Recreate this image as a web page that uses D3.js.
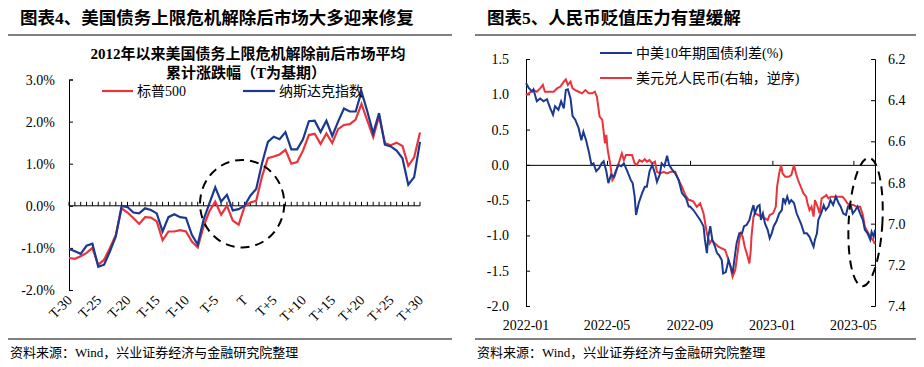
<!DOCTYPE html>
<head>
    <meta charset="utf-8">
    <title>美国债务上限 / 人民币</title>
    <style>
        body { margin: 0; background: #fff; }
        svg { display: block; }
        text { font-family: "Liberation Serif", "Noto Sans CJK SC", serif; fill: #000; }
        .title { font-weight: bold; font-size: 17.5px; }
        .sub { font-weight: bold; font-size: 15px; }
        .tick-label { font-size: 14px; }
        .legend { font-size: 14px; }
        .foot { font-size: 13px; }
    </style>
</head>

<body>
    <svg width="924" height="367"></svg>

    <script src="https://d3js.org/d3.v7.min.js"></script>

    <script>
        // ---- chart 4: average cumulative move around T ----
        var dayLabels = ["T-30", "T-25", "T-20", "T-15", "T-10", "T-5", "T", "T+5", "T+10", "T+15", "T+20", "T+25", "T+30"];
        var yTicksL = [-2, -1, 0, 1, 2, 3];
        // T-30 .. T+30 (61 points), %
        var sp500 = [-1.24, -1.26, -1.20, -1.12, -1.00, -1.40, -1.28, -1.00, -0.69, -0.06,
            -0.16, -0.29, -0.43, -0.27, -0.28, -0.37, -0.82, -0.61, -0.61, -0.58,
            -0.61, -0.85, -0.99, -0.49, -0.13, 0.10, -0.21, 0.00, -0.35, -0.45,
            -0.02, 0.08, 0.12, 0.70, 1.13, 1.17, 1.22, 1.33, 1.00, 1.04,
            1.31, 1.68, 1.71, 1.47, 1.72, 1.49, 1.82, 1.92, 1.94, 2.05,
            2.42, 2.02, 1.63, 2.13, 1.49, 1.44, 1.50, 1.42, 0.95, 1.15,
            1.74];
        var nasdaq = [-1.02, -1.08, -1.14, -0.95, -0.90, -1.45, -1.40, -1.08, -0.73, 0.00,
            -0.03, -0.16, -0.18, -0.06, -0.10, -0.18, -0.61, -0.27, -0.20, -0.27,
            -0.29, -0.69, -0.92, -0.33, 0.06, 0.44, 0.10, 0.26, -0.11, -0.08,
            0.00, 0.24, 0.40, 1.01, 1.52, 1.64, 1.58, 1.75, 1.34, 1.34,
            1.58, 2.01, 2.02, 1.75, 2.02, 1.66, 2.00, 2.31, 2.24, 2.24,
            2.71, 2.24, 1.72, 2.20, 1.45, 1.41, 1.31, 1.13, 0.50, 0.68,
            1.52];

        // ---- chart 5: CN-US 10y spread and USD/CNY ----
        var spreadDates = [
            "2022-01-01", "2022-01-05", "2022-01-10", "2022-01-12", "2022-01-17", "2022-01-22", "2022-01-27", "2022-02-01", "2022-02-06", "2022-02-10",
            "2022-02-13", "2022-02-18", "2022-02-22", "2022-02-26", "2022-03-01", "2022-03-04", "2022-03-08", "2022-03-11", "2022-03-15", "2022-03-20",
            "2022-03-24", "2022-03-27", "2022-03-31", "2022-04-04", "2022-04-08", "2022-04-11", "2022-04-15", "2022-04-19", "2022-04-23", "2022-04-26",
            "2022-04-30", "2022-05-03", "2022-05-07", "2022-05-11", "2022-05-14", "2022-05-18", "2022-05-22", "2022-05-26", "2022-05-31", "2022-06-05",
            "2022-06-08", "2022-06-11", "2022-06-13", "2022-06-17", "2022-06-22", "2022-06-26", "2022-06-29", "2022-07-03", "2022-07-07", "2022-07-11",
            "2022-07-14", "2022-07-18", "2022-07-21", "2022-07-25", "2022-07-29", "2022-08-01", "2022-08-05", "2022-08-10", "2022-08-15", "2022-08-20",
            "2022-08-26", "2022-08-30", "2022-09-01", "2022-09-06", "2022-09-11", "2022-09-16", "2022-09-21", "2022-09-23", "2022-09-26", "2022-09-28",
            "2022-10-01", "2022-10-04", "2022-10-08", "2022-10-11", "2022-10-14", "2022-10-18", "2022-10-20", "2022-10-24", "2022-10-28", "2022-10-31",
            "2022-11-03", "2022-11-07", "2022-11-09", "2022-11-13", "2022-11-17", "2022-11-20", "2022-11-24", "2022-11-28", "2022-12-01", "2022-12-04",
            "2022-12-06", "2022-12-10", "2022-12-13", "2022-12-15", "2022-12-18", "2022-12-21", "2022-12-25", "2022-12-28", "2022-12-31", "2023-01-03",
            "2023-01-07", "2023-01-11", "2023-01-15", "2023-01-17", "2023-01-20", "2023-01-23", "2023-01-26", "2023-01-29", "2023-02-02", "2023-02-06",
            "2023-02-10", "2023-02-13", "2023-02-17", "2023-02-21", "2023-02-25", "2023-02-28", "2023-03-03", "2023-03-05", "2023-03-08", "2023-03-10",
            "2023-03-14", "2023-03-18", "2023-03-21", "2023-03-25", "2023-03-28", "2023-04-01", "2023-04-05", "2023-04-09", "2023-04-12", "2023-04-16",
            "2023-04-20", "2023-04-23", "2023-04-27", "2023-04-30", "2023-05-04", "2023-05-07", "2023-05-11", "2023-05-15", "2023-05-18", "2023-05-22",
            "2023-05-26", "2023-05-28", "2023-05-31", "2023-06-02"];
        var spreadVals = [
            1.16, 1.09, 1.04, 1.07, 0.90, 0.94, 0.90, 0.93, 0.80, 0.71,
            0.83, 0.78, 0.90, 0.80, 1.06, 1.07, 0.94, 0.69, 0.64, 0.52,
            0.35, 0.47, 0.35, 0.19, 0.00, 0.02, -0.09, -0.05, 0.02, 0.05,
            -0.09, -0.26, -0.14, -0.17, -0.09, 0.00, -0.02, 0.02, -0.09, -0.21,
            -0.26, -0.45, -0.71, -0.54, -0.40, -0.31, -0.31, -0.09, 0.00, -0.12,
            -0.24, -0.14, 0.02, -0.02, 0.13, 0.00, -0.06, -0.12, -0.21, -0.40,
            -0.47, -0.59, -0.59, -0.64, -0.71, -0.78, -0.87, -1.06, -1.25, -1.02,
            -0.87, -1.06, -1.16, -1.25, -1.28, -1.35, -1.54, -1.52, -1.35, -1.44,
            -1.54, -1.25, -1.11, -0.97, -0.97, -0.87, -0.85, -0.78, -0.66, -0.57,
            -0.69, -0.59, -0.57, -0.78, -0.69, -0.83, -0.92, -1.04, -0.97, -0.87,
            -0.80, -0.69, -0.64, -0.47, -0.54, -0.45, -0.54, -0.50, -0.54, -0.69,
            -0.78, -0.85, -0.97, -0.97, -1.02, -1.09, -1.16, -1.06, -0.97, -0.78,
            -0.69, -0.57, -0.64, -0.59, -0.50, -0.57, -0.45, -0.54, -0.59, -0.69,
            -0.71, -0.59, -0.57, -0.69, -0.64, -0.59, -0.69, -0.78, -0.92, -0.97,
            -1.06, -0.95, -1.02, -0.92];
        var cnyDates = [
            "2022-01-01", "2022-01-05", "2022-01-12", "2022-01-17", "2022-01-22", "2022-01-26", "2022-01-29", "2022-02-04", "2022-02-11", "2022-02-16",
            "2022-02-21", "2022-02-26", "2022-03-01", "2022-03-04", "2022-03-08", "2022-03-11", "2022-03-15", "2022-03-20", "2022-03-25", "2022-03-30",
            "2022-04-04", "2022-04-09", "2022-04-13", "2022-04-16", "2022-04-20", "2022-04-24", "2022-04-28", "2022-04-30", "2022-05-02", "2022-05-06",
            "2022-05-09", "2022-05-12", "2022-05-16", "2022-05-19", "2022-05-23", "2022-05-26", "2022-05-29", "2022-06-02", "2022-06-07", "2022-06-11",
            "2022-06-14", "2022-06-18", "2022-06-22", "2022-06-26", "2022-06-29", "2022-07-03", "2022-07-07", "2022-07-11", "2022-07-14", "2022-07-19",
            "2022-07-24", "2022-07-29", "2022-08-03", "2022-08-10", "2022-08-15", "2022-08-20", "2022-08-25", "2022-08-30", "2022-09-01", "2022-09-06",
            "2022-09-11", "2022-09-16", "2022-09-21", "2022-09-26", "2022-09-30", "2022-10-03", "2022-10-08", "2022-10-13", "2022-10-18", "2022-10-23",
            "2022-10-28", "2022-10-31", "2022-11-03", "2022-11-07", "2022-11-09", "2022-11-13", "2022-11-15", "2022-11-18", "2022-11-21", "2022-11-24",
            "2022-11-28", "2022-11-30", "2022-12-01", "2022-12-04", "2022-12-06", "2022-12-11", "2022-12-16", "2022-12-21", "2022-12-25", "2022-12-28",
            "2023-01-02", "2023-01-06", "2023-01-08", "2023-01-11", "2023-01-14", "2023-01-16", "2023-01-20", "2023-01-25", "2023-01-29", "2023-02-02",
            "2023-02-05", "2023-02-08", "2023-02-12", "2023-02-16", "2023-02-20", "2023-02-22", "2023-02-25", "2023-02-28", "2023-03-03", "2023-03-05",
            "2023-03-09", "2023-03-12", "2023-03-15", "2023-03-19", "2023-03-22", "2023-03-25", "2023-03-29", "2023-04-02", "2023-04-06", "2023-04-11",
            "2023-04-15", "2023-04-19", "2023-04-22", "2023-04-26", "2023-05-01", "2023-05-06", "2023-05-11", "2023-05-15", "2023-05-18", "2023-05-22",
            "2023-05-26", "2023-05-30", "2023-06-02"];
        var cnyVals = [
            6.375, 6.367, 6.351, 6.359, 6.343, 6.326, 6.359, 6.359, 6.359, 6.343,
            6.334, 6.310, 6.299, 6.326, 6.310, 6.343, 6.351, 6.359, 6.367, 6.351,
            6.367, 6.367, 6.359, 6.383, 6.480, 6.496, 6.610, 6.569, 6.642, 6.715,
            6.788, 6.772, 6.731, 6.699, 6.658, 6.691, 6.666, 6.666, 6.666, 6.707,
            6.715, 6.691, 6.699, 6.687, 6.699, 6.691, 6.707, 6.699, 6.748, 6.756,
            6.748, 6.756, 6.748, 6.748, 6.788, 6.820, 6.861, 6.885, 6.885, 6.893,
            6.918, 6.901, 6.950, 7.047, 7.096, 7.080, 7.096, 7.112, 7.120, 7.128,
            7.177, 7.209, 7.258, 7.225, 7.177, 7.080, 7.047, 7.063, 7.112, 7.144,
            7.193, 7.128, 7.063, 6.966, 6.950, 6.958, 6.966, 6.974, 6.982, 6.958,
            6.950, 6.918, 6.820, 6.756, 6.715, 6.756, 6.772, 6.772, 6.764, 6.715,
            6.756, 6.788, 6.820, 6.853, 6.869, 6.901, 6.934, 6.918, 6.966, 6.885,
            6.918, 6.950, 6.877, 6.869, 6.861, 6.877, 6.869, 6.869, 6.869, 6.869,
            6.869, 6.885, 6.901, 6.909, 6.909, 6.918, 6.918, 6.958, 7.015, 7.039,
            7.063, 7.080, 7.099];
        var monthTicks = ["2022-01", "2022-05", "2022-09", "2023-01", "2023-05"];
        var yTicksR1 = [-2, -1.5, -1, -0.5, 0, 0.5, 1, 1.5];
        var yTicksR2 = [6.2, 6.4, 6.6, 6.8, 7.0, 7.2, 7.4];

        var RED = "#e8343a", BLUE = "#1b3a8f";
        var svg = d3.select("svg");
        var parse = d3.timeParse("%Y-%m-%d");

        // ---------- frame, titles, footers ----------
        svg.append("text").attr("class", "title").attr("x", 20).attr("y", 24)
            .text("图表4、美国债务上限危机解除后市场大多迎来修复");
        svg.append("text").attr("class", "title").attr("x", 487).attr("y", 24)
            .text("图表5、人民币贬值压力有望缓解");
        [[8, 452], [475, 916]].forEach(function (s) {
            svg.append("line").attr("x1", s[0]).attr("x2", s[1]).attr("y1", 35).attr("y2", 35)
                .attr("stroke", "#000").attr("stroke-width", 1);
            svg.append("line").attr("x1", s[0]).attr("x2", s[1]).attr("y1", 339).attr("y2", 339)
                .attr("stroke", "#000").attr("stroke-width", 1);
            svg.append("text").attr("class", "foot").attr("x", s[0] + 2).attr("y", 357)
                .text("资料来源：Wind，兴业证券经济与金融研究院整理");
        });

        // ---------- chart 4 ----------
        var x4 = d3.scaleLinear().domain([0, 60]).range([69, 420]);
        var y4 = d3.scaleLinear().domain([-2, 3]).range([290, 79.5]);
        var g4 = svg.append("g");

        g4.append("text").attr("class", "sub").attr("x", 248).attr("y", 59).attr("text-anchor", "middle")
            .text("2012年以来美国债务上限危机解除前后市场平均");
        g4.append("text").attr("class", "sub").attr("x", 246).attr("y", 78).attr("text-anchor", "middle")
            .text("累计涨跌幅（T为基期）");

        // y axis
        g4.append("g").attr("transform", "translate(69,0)")
            .call(d3.axisRight(y4).tickValues(yTicksL).tickSize(4).tickFormat(""))
            .call(function (a) { a.selectAll("path,line").attr("stroke", "#000"); });
        g4.selectAll(".ylab").data(yTicksL).enter().append("text")
            .attr("class", "tick-label").attr("x", 55).attr("y", function (d) { return y4(d) + 5; })
            .attr("text-anchor", "end").text(function (d) { return d.toFixed(1) + "%"; });

        // zero axis with category ticks
        g4.append("line").attr("x1", x4(0)).attr("x2", x4(60)).attr("y1", y4(0)).attr("y2", y4(0)).attr("stroke", "#000");
        g4.selectAll(".xt").data(d3.range(61)).enter().append("line")
            .attr("x1", x4).attr("x2", x4).attr("y1", y4(0)).attr("y2", y4(0) - 4).attr("stroke", "#000");
        g4.selectAll(".xlab").data(dayLabels).enter().append("text")
            .attr("class", "tick-label").attr("text-anchor", "end")
            .attr("transform", function (d, i) { return "translate(" + (x4(i * 5) + 4) + ",301) rotate(-45)"; })
            .text(function (d) { return d; });

        var line4 = function (vals) {
            return d3.line().x(function (d, i) { return x4(i); }).y(function (d) { return y4(d); })(vals);
        };
        g4.append("path").attr("d", line4(sp500)).attr("fill", "none").attr("stroke", RED).attr("stroke-width", 2.2);
        g4.append("path").attr("d", line4(nasdaq)).attr("fill", "none").attr("stroke", BLUE).attr("stroke-width", 2.2);

        // dashed circle round T
        g4.append("ellipse").attr("cx", x4(29.6)).attr("cy", y4(0.05))
            .attr("rx", x4(7.2) - x4(0)).attr("ry", y4(0) - y4(1.04))
            .attr("fill", "none").attr("stroke", "#000").attr("stroke-width", 2).attr("stroke-dasharray", "9,6");

        // legend
        g4.append("line").attr("x1", 102).attr("x2", 133).attr("y1", 91).attr("y2", 91).attr("stroke", RED).attr("stroke-width", 2.2);
        g4.append("text").attr("class", "legend").attr("x", 137).attr("y", 96).text("标普500");
        g4.append("line").attr("x1", 243).attr("x2", 275).attr("y1", 91).attr("y2", 91).attr("stroke", BLUE).attr("stroke-width", 2.2);
        g4.append("text").attr("class", "legend").attr("x", 279).attr("y", 96).text("纳斯达克指数");

        // ---------- chart 5 ----------
        var x5 = d3.scaleTime().domain([parse("2022-01-01"), parse("2023-06-02")]).range([526, 875]);
        var yS = d3.scaleLinear().domain([-2, 1.5]).range([306, 59]);
        var yC = d3.scaleLinear().domain([6.2, 7.4]).range([59, 306]);
        var g5 = svg.append("g");

        g5.append("g").attr("transform", "translate(526,0)")
            .call(d3.axisRight(yS).tickValues(yTicksR1).tickSize(4).tickFormat(""))
            .call(function (a) { a.selectAll("path,line").attr("stroke", "#000"); });
        g5.selectAll(".yl").data(yTicksR1).enter().append("text")
            .attr("class", "tick-label").attr("x", 509).attr("y", function (d) { return yS(d) + 5; })
            .attr("text-anchor", "end").text(function (d) { return d.toFixed(1); });

        g5.append("g").attr("transform", "translate(875,0)")
            .call(d3.axisLeft(yC).tickValues(yTicksR2).tickSize(4).tickFormat(""))
            .call(function (a) { a.selectAll("path,line").attr("stroke", "#000"); });
        g5.selectAll(".yr").data(yTicksR2).enter().append("text")
            .attr("class", "tick-label").attr("x", 888).attr("y", function (d) { return yC(d) + 5; })
            .text(function (d) { return d.toFixed(1); });

        var monthDates = monthTicks.map(function (m) { return parse(m + "-01"); });
        g5.append("g").attr("transform", "translate(0," + yS(0) + ")")
            .call(d3.axisTop(x5).tickValues(monthDates).tickSize(4).tickSizeOuter(0).tickFormat(""))
            .call(function (a) { a.selectAll("path,line").attr("stroke", "#000"); });
        g5.selectAll(".xl").data(monthTicks).enter().append("text")
            .attr("class", "tick-label").attr("text-anchor", "middle")
            .attr("x", function (d, i) { return x5(monthDates[i]); }).attr("y", 330)
            .text(function (d) { return d; });

        var spread = spreadDates.map(function (d, i) { return [parse(d), spreadVals[i]]; });
        var cny = cnyDates.map(function (d, i) { return [parse(d), cnyVals[i]]; });
        g5.append("path")
            .attr("d", d3.line().x(function (d) { return x5(d[0]); }).y(function (d) { return yC(d[1]); })(cny))
            .attr("fill", "none").attr("stroke", RED).attr("stroke-width", 2);
        g5.append("path")
            .attr("d", d3.line().x(function (d) { return x5(d[0]); }).y(function (d) { return yS(d[1]); })(spread))
            .attr("fill", "none").attr("stroke", BLUE).attr("stroke-width", 2);

        // dashed ellipse on the latest readings
        var ec = x5(parse("2023-05-19"));
        g5.append("ellipse").attr("cx", ec).attr("cy", yS(-0.81))
            .attr("rx", x5(parse("2023-06-13")) - ec).attr("ry", yS(-0.81) - yS(0.1))
            .attr("transform", "rotate(3," + ec + "," + yS(-0.81) + ")")
            .attr("fill", "none").attr("stroke", "#000").attr("stroke-width", 2).attr("stroke-dasharray", "9,6");

        // legend
        g5.append("line").attr("x1", 600).attr("x2", 632).attr("y1", 53).attr("y2", 53).attr("stroke", BLUE).attr("stroke-width", 2);
        g5.append("text").attr("class", "legend").attr("x", 636).attr("y", 58).text("中美10年期国债利差(%)");
        g5.append("line").attr("x1", 600).attr("x2", 632).attr("y1", 78).attr("y2", 78).attr("stroke", RED).attr("stroke-width", 2);
        g5.append("text").attr("class", "legend").attr("x", 636).attr("y", 83).text("美元兑人民币(右轴，逆序)");
    </script>
</body>
